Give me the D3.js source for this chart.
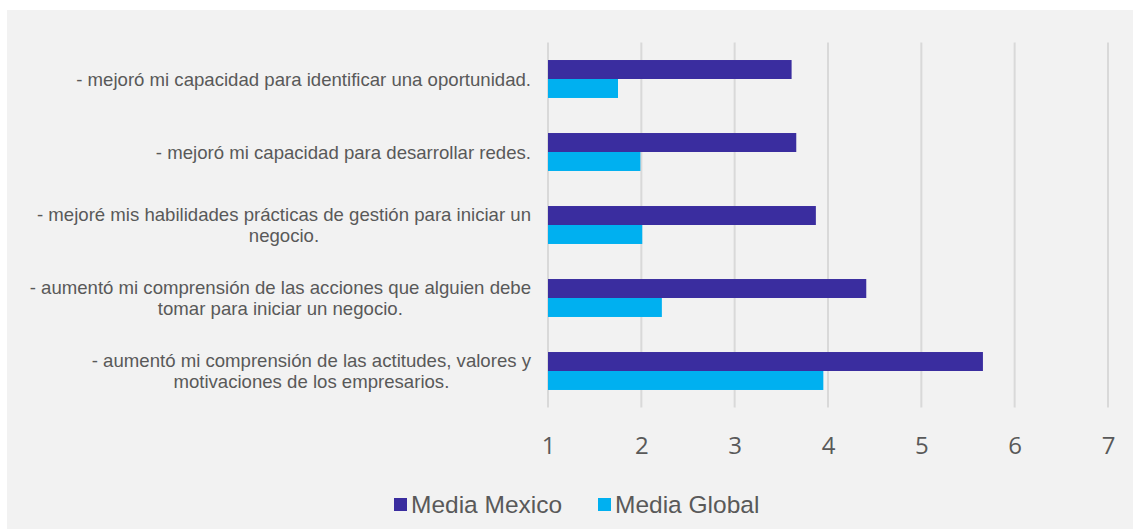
<!DOCTYPE html>
<html>
<head>
<meta charset="utf-8">
<script src="https://cdn.jsdelivr.net/npm/d3@7"></script>
<style>
  html, body { margin: 0; padding: 0; background: #ffffff; }
  svg { display: block; }
</style>
</head>
<body>
<svg id="chart" width="1133" height="529"></svg>
<script>
// Survey statements (each entry is a list of wrapped lines)
const categories = [
  ["- mejoró mi capacidad para identificar una oportunidad."],
  ["- mejoró mi capacidad para desarrollar redes."],
  ["- mejoré mis habilidades prácticas de gestión para iniciar un", "negocio."],
  ["- aumentó mi comprensión de las acciones que alguien debe", "tomar para iniciar un negocio."],
  ["- aumentó mi comprensión de las actitudes, valores y", "motivaciones de los empresarios."]
];
const seriesNames = ["Media Mexico", "Media Global"];
const mediaMexico = [3.61, 3.66, 3.87, 4.41, 5.66];
const mediaGlobal = [1.75, 1.99, 2.01, 2.22, 3.95];
const tickValues = [1, 2, 3, 4, 5, 6, 7];

const colors = ["#3a2d9f", "#00b0f0"];
const series = [mediaMexico, mediaGlobal];

const W = 1133, H = 529;
const svg = d3.select("#chart");

// panel background
svg.append("rect")
  .attr("x", 7).attr("y", 10)
  .attr("width", W - 7).attr("height", H - 10)
  .attr("fill", "#f2f2f2");

const plot = { left: 548, right: 1108, top: 42.5, bottom: 407.5 };

const x = d3.scaleLinear().domain([1, 7]).range([plot.left, plot.right]);
const y = d3.scaleBand()
  .domain(d3.range(categories.length))
  .range([plot.top, plot.bottom])
  .paddingInner(0.48).paddingOuter(0.24);
const ySub = d3.scaleBand().domain(d3.range(series.length)).range([0, y.bandwidth()]);

// vertical gridlines
svg.append("g")
  .selectAll("line")
  .data(tickValues)
  .join("line")
  .attr("x1", d => x(d)).attr("x2", d => x(d))
  .attr("y1", plot.top).attr("y2", plot.bottom)
  .attr("stroke", "#d9d9d9")
  .attr("stroke-width", 2);

// bars
const groups = svg.append("g")
  .selectAll("g")
  .data(categories.map((c, i) => i))
  .join("g")
  .attr("transform", i => `translate(0,${y(i)})`);

groups.selectAll("rect")
  .data(i => series.map((s, k) => ({ k, v: s[i] })))
  .join("rect")
  .attr("x", x(1))
  .attr("y", d => ySub(d.k))
  .attr("width", d => x(d.v) - x(1))
  .attr("height", ySub.bandwidth())
  .attr("fill", d => colors[d.k]);

// x axis tick labels
const xAxis = d3.axisBottom(x).tickValues(tickValues).tickSize(0).tickPadding(0).tickFormat(d3.format("d"));
const axisG = svg.append("g")
  .attr("transform", `translate(0,${plot.bottom})`)
  .call(xAxis);
axisG.select(".domain").remove();
axisG.selectAll("text")
  .attr("dy", null)
  .attr("y", 46)
  .attr("font-family", "'Open Sans', sans-serif")
  .attr("font-size", 24)
  .attr("fill", "#595959");

// category labels: block right-aligned to the plot, lines centred within the block
const labelRight = 531;
const lineH = 21.5;
const labels = svg.append("g")
  .attr("font-family", "'Liberation Sans', Arial, sans-serif")
  .attr("font-size", 18.6)
  .attr("fill", "#595959");

categories.forEach((lines, i) => {
  const cy = y(i) + y.bandwidth() / 2;
  const g = labels.append("g");
  const texts = lines.map((t, j) => g.append("text")
    .attr("y", cy + (j - (lines.length - 1) / 2) * lineH)
    .attr("dy", "0.35em")
    .text(t));
  const widths = texts.map(t => t.node().getComputedTextLength());
  const blockW = d3.max(widths);
  const centre = labelRight - blockW / 2;
  texts.forEach(t => t.attr("x", centre).attr("text-anchor", "middle"));
});

// legend
const legend = svg.append("g")
  .attr("font-family", "'Liberation Sans', Arial, sans-serif")
  .attr("font-size", 24.5)
  .attr("fill", "#595959");
const legendX = [394, 598];
seriesNames.forEach((name, k) => {
  legend.append("rect")
    .attr("x", legendX[k]).attr("y", 498)
    .attr("width", 13).attr("height", 13)
    .attr("fill", colors[k]);
  legend.append("text")
    .attr("x", legendX[k] + 17).attr("y", 504)
    .attr("dy", "0.35em")
    .text(name);
});
</script>
</body>
</html>
